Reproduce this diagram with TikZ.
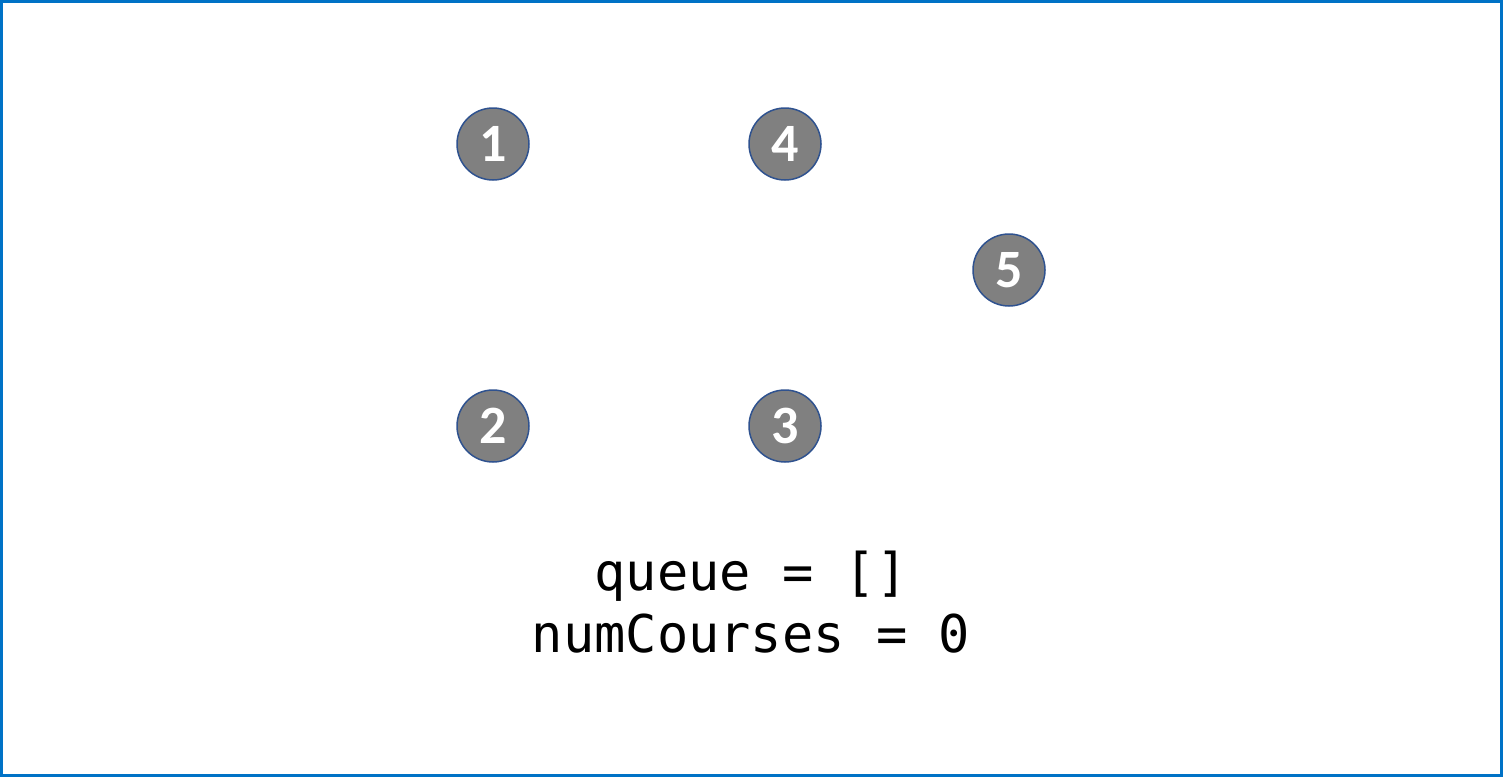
\documentclass[tikz,border=0pt]{standalone}
\usepackage{fontspec}
\newfontfamily\numfont{Carlito Bold}
\newfontfamily\codefont{DejaVu Sans Mono}
\definecolor{frameblue}{RGB}{0,114,198}
\definecolor{ringblue}{RGB}{47,82,143}
\definecolor{nodegray}{RGB}{128,128,128}
\tikzset{
  vert/.style={circle, draw=ringblue, line width=0.75pt, fill=nodegray, minimum size=36pt, inner sep=0pt,
    text=white, font=\numfont\fontsize{27}{27}\selectfont},
  codeline/.style={anchor=base, inner sep=0pt, font=\codefont\fontsize{26}{31}\selectfont}
}
\begin{document}
\begin{tikzpicture}[x=0.5pt,y=-0.5pt]
\useasboundingbox (0,0) rectangle (1503,777);
\draw[frameblue, line width=1.5pt] (1.5,1.5) rectangle (1501.5,775.5);
\node[vert] (n1) at (493,144) {1};
\node[vert] (n4) at (785,144) {4};
\node[vert] (n5) at (1009,270) {5};
\node[vert] (n2) at (493,426) {2};
\node[vert] (n3) at (785,426) {3};
\node[codeline] (q1) at (751,590) {queue = []};
\node[codeline] (q2) at (751,652) {numCourses = 0};
\end{tikzpicture}
\end{document}
